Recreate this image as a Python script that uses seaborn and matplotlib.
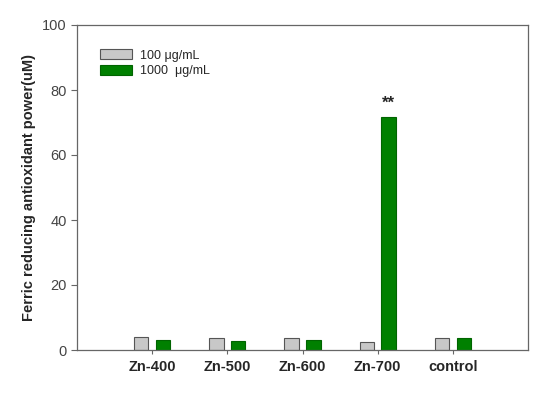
import matplotlib
matplotlib.use("Agg")
import matplotlib.pyplot as plt
from matplotlib.patches import Patch
import pandas as pd
import seaborn as sns

# values
samples = ["Zn-400", "Zn-500", "Zn-600", "Zn-700", "control"]
conc_100 = [4.0, 3.8, 3.8, 2.5, 3.8]
conc_1000 = [3.1, 2.8, 3.1, 71.6, 3.8]
series_labels = ["100 μg/mL", "1000  μg/mL"]

df = pd.DataFrame({
    "sample": samples * 2,
    "value": conc_100 + conc_1000,
    "conc": [series_labels[0]] * len(samples) + [series_labels[1]] * len(samples),
})

fill_cols = ["#c8c8c8", "#008000"]
edge_cols = ["#555555", "#006400"]

sns.set_style("ticks")
plt.rcParams["font.family"] = ["Liberation Sans", "DejaVu Sans"]

fig = plt.figure(figsize=(5.5, 3.93), dpi=100)
ax = fig.add_axes([77 / 550, 1 - 350 / 393, (528 - 77) / 550, (350 - 25) / 393])

sns.barplot(data=df, x="sample", y="value", hue="conc",
            palette=fill_cols, saturation=1, width=0.58, gap=0.34,
            errorbar=None, legend=False, ax=ax)

for cont, ec in zip(ax.containers, edge_cols):
    for bar in cont:
        bar.set_edgecolor(ec)
        bar.set_linewidth(0.8)

# significance mark above Zn-700 at 1000 ug/mL
green = ax.containers[1][3]
ax.text(green.get_x() + green.get_width() / 2, green.get_height() + 2.0, "**",
        ha="center", va="bottom", fontsize=12, fontweight="bold")

ax.set_xlim(-1, 5)
ax.set_ylim(0, 100)
ax.set_yticks([0, 20, 40, 60, 80, 100])
ax.set_xlabel("")
ax.set_ylabel("Ferric reducing antioxidant power(uM)", fontsize=10.5, fontweight="bold")
ax.tick_params(axis="y", labelsize=10.5, labelcolor="#444444", color="#666666", length=4, width=0.8)
ax.tick_params(axis="x", labelsize=10.5, color="#666666", length=3, width=0.8, pad=4)
for lab in ax.get_xticklabels():
    lab.set_fontweight("bold")

for side in ["left", "right", "top", "bottom"]:
    ax.spines[side].set_visible(True)
    ax.spines[side].set_color("#666666")
    ax.spines[side].set_linewidth(0.9)

handles = [Patch(facecolor=f, edgecolor=e, linewidth=0.8, label=l)
           for f, e, l in zip(fill_cols, edge_cols, series_labels)]
ax.legend(handles=handles, loc="upper left", bbox_to_anchor=(0.05, 0.925), frameon=False,
          fontsize=9, handlelength=2.6, handleheight=0.8, handletextpad=0.6,
          labelspacing=0.3, borderpad=0, borderaxespad=0)

fig.savefig("out.png", dpi=100)
